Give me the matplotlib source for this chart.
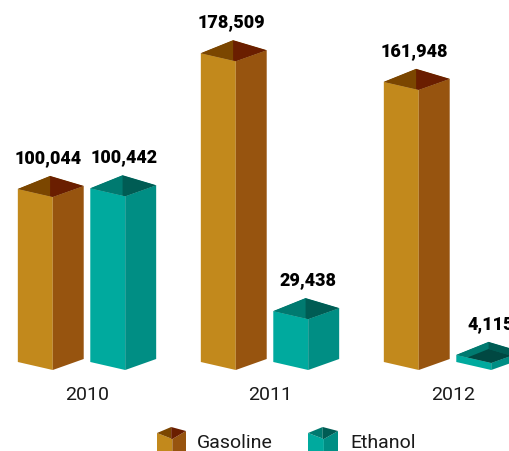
import matplotlib
matplotlib.use("Agg")
import matplotlib.pyplot as plt
from matplotlib.patches import Polygon

years = ["2010", "2011", "2012"]
series = ["Gasoline", "Ethanol"]
gasoline = [100044, 178509, 161948]
ethanol = [100442, 29438, 4115]
labels_gas = ["100,044", "178,509", "161,948"]
labels_eth = ["100,442", "29,438", "4,115"]

colors = {
    "Gasoline": dict(front="#C2891C", side="#97540F", wl="#7B4600", wr="#6A1E00", floor="#5A2A00"),
    "Ethanol": dict(front="#00AA9E", side="#008E84", wl="#007A70", wr="#005C54", floor="#004842"),
}

W, H = 509, 452
fig = plt.figure(figsize=(W / 100, H / 100), dpi=100)
ax = fig.add_axes([0, 0, 1, 1])
ax.set_axis_off()

# axis scales
base_px = 363.0          # baseline pixel from top
px_per_unit = 1.73 / 1000.0
x0_px, gstep_px = 87.0, 183.0
ax.set_xlim(-x0_px / gstep_px, (W - x0_px) / gstep_px)
ax.set_ylim(-(H - base_px) / px_per_unit, base_px / px_per_unit)

ypx = 1.0 / px_per_unit       # data units per pixel (y)

def prism(a, xl, xr, v, c, clip=True):
    w = xr - xl
    xm = xl + 0.53 * w
    xb = xl + 0.49 * w
    dR, dF, dB = 3 * ypx, -8 * ypx, 13 * ypx
    h = v
    a.add_patch(Polygon([(xl, 0), (xm, dF), (xm, v + dF), (xl, v)], closed=True,
                        facecolor=c["front"], edgecolor="none", clip_on=clip))
    a.add_patch(Polygon([(xm, dF), (xr, dR), (xr, v + dR), (xm, v + dF)], closed=True,
                        facecolor=c["side"], edgecolor="none", clip_on=clip))
    rim = Polygon([(xl, v), (xb, v + dB), (xr, v + dR), (xm, v + dF)], closed=True,
                  facecolor=c["wl"], edgecolor="none", clip_on=clip)
    a.add_patch(rim)
    wl = Polygon([(xl, v), (xb, v + dB), (xb, v + dB - h), (xl, v - h)], closed=True,
                 facecolor=c["wl"], edgecolor="none")
    wr = Polygon([(xb, v + dB), (xr, v + dR), (xr, v + dR - h), (xb, v + dB - h)], closed=True,
                 facecolor=c["wr"], edgecolor="none")
    fl = Polygon([(xl, v - h), (xb, v + dB - h), (xr, v + dR - h), (xm, v + dF - h)], closed=True,
                 facecolor=c["floor"], edgecolor="none")
    for p in (wl, wr, fl):
        a.add_patch(p)
        p.set_clip_path(rim)
    return (xl + xr) / 2

for i, yr in enumerate(years):
    for s, vals, labs, (o0, o1), dx in (("Gasoline", gasoline, labels_gas, (-0.378, -0.018), -2),
                                       ("Ethanol", ethanol, labels_eth, (0.018, 0.378), 1)):
        v = vals[i]
        cx = prism(ax, i + o0, i + o1, v, colors[s])
        ax.annotate(labs[i], (cx, v), xytext=(dx, 19.5), textcoords="offset points",
                    ha="center", va="baseline", fontsize=13, fontweight="heavy",
                    family="Roboto", color="#000000", annotation_clip=False)
    ax.annotate(yr, (i, 0), xytext=(0, -23), textcoords="offset points",
                ha="center", va="center", fontsize=14, fontweight="normal",
                family="Roboto", color="#1a1a1a", annotation_clip=False)

# legend (pixel layout overlay)
lax = fig.add_axes([0, 0, 1, 1])
lax.set_axis_off()
lax.set_xlim(0, W)
lax.set_ylim(H, 0)

def icon(a, xl, xr, top, c):
    w = xr - xl
    xm = xl + 0.53 * w
    xb = xl + 0.49 * w
    yl = top + 6
    a.add_patch(Polygon([(xl, yl), (xm, yl + 6), (xm, H + 5), (xl, H + 5)], facecolor=c["front"], edgecolor="none"))
    a.add_patch(Polygon([(xm, yl + 6), (xr, yl - 2), (xr, H + 5), (xm, H + 5)], facecolor=c["side"], edgecolor="none"))
    a.add_patch(Polygon([(xl, yl), (xb, top), (xb, yl + 6), (xm, yl + 6)], facecolor=c["wl"], edgecolor="none"))
    a.add_patch(Polygon([(xb, top), (xr, yl - 2), (xm, yl + 6), (xb, yl + 6)], facecolor=c["wr"], edgecolor="none"))

icon(lax, 157, 186, 428, colors["Gasoline"])
lax.text(197, 443, "Gasoline", ha="left", va="center", fontsize=14, fontweight="normal",
         family="Roboto", color="#1a1a1a")
icon(lax, 308, 338, 428, colors["Ethanol"])
lax.text(350, 443, "Ethanol", ha="left", va="center", fontsize=14, fontweight="normal",
         family="Roboto", color="#1a1a1a")

fig.savefig("out.png", dpi=100)
